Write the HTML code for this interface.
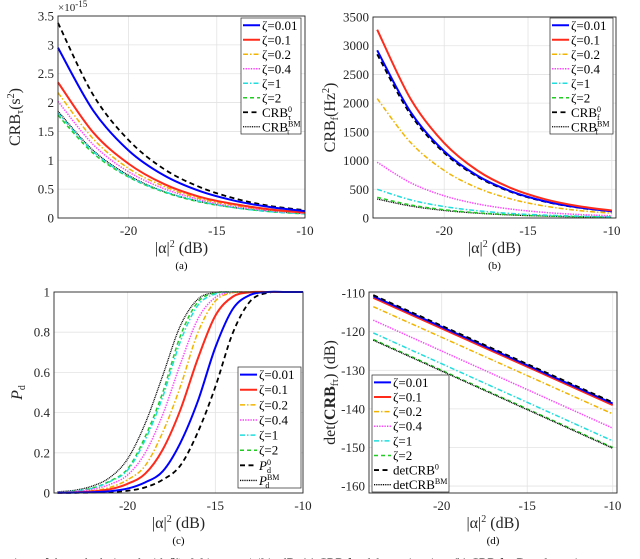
<!DOCTYPE html>
<html><head><meta charset="utf-8">
<style>
html,body{margin:0;padding:0;background:#fff;overflow:hidden;}
svg{display:block;font-family:"Liberation Serif",serif;}
</style></head>
<body>
<svg id="fig" width="640" height="559" viewBox="0 0 640 559" xmlns="http://www.w3.org/2000/svg">
<text x="-2" y="567" font-size="12.5" fill="#000">parison of the code designed with β̃ = 0.01 versus |α|² in dB: (a) CRB for delay estimation, (b) CRB for Doppler esti</text>
</svg>
<script>
// ---------- data ----------
const labels = ["ζ=0.01","ζ=0.1","ζ=0.2","ζ=0.4","ζ=1","ζ=2"];
// panel a (x in dB, values ×1e-15 s^2)
const xA = [-24,-22,-20,-18,-16,-14,-12,-10];
const aBlue   = [2.95,1.86,1.17,0.74,0.47,0.30,0.19,0.12];
const aRed    = [2.35,1.48,0.94,0.59,0.37,0.24,0.15,0.094];
const aYellow = [2.17,1.37,0.86,0.55,0.34,0.22,0.14,0.086];
const aMag    = [2.02,1.27,0.80,0.51,0.32,0.20,0.13,0.080];
const aCyan   = [1.82,1.15,0.72,0.46,0.29,0.18,0.11,0.072];
const aGreen  = [1.78,1.12,0.71,0.45,0.28,0.18,0.11,0.071];
const aCRB0   = [3.38,2.13,1.35,0.85,0.54,0.34,0.21,0.135];
const aBM     = [1.85,1.17,0.74,0.46,0.29,0.18,0.12,0.074];
const aTicksY = [0,0.5,1,1.5,2,2.5,3,3.5];
// panel b (Hz^2)
const xB = [-24,-22,-20,-18,-16,-14,-12,-10];
const bBlue   = [2920,1842,1162,733,463,292,184,116];
const bRed    = [3280,2070,1305,823,519,328,207,130];
const bYellow = [2080,1312,828,522,330,208,131,83];
const bMag    = [970,612,386,244,154,97,61,39];
const bCyan   = [500,315,199,126,79,50,32,20];
const bGreen  = [360,227,143,90,57,36,23,14];
const bCRB0   = [2850,1798,1134,716,452,285,180,113];
const bBM     = [330,208,131,83,52,33,21,13];
const bTicksY = [0,500,1000,1500,2000,2500,3000,3500];
// panel c (Pd)
const xC = [-24,-23,-22,-21,-20,-19,-18,-17,-16,-15,-14,-13,-12,-11,-10];
const cBlue   = [0.001,0.002,0.004,0.009,0.022,0.053,0.108,0.248,0.456,0.724,0.916,0.986,1,1,1];
const cRed    = [0.002,0.003,0.008,0.019,0.046,0.096,0.216,0.412,0.668,0.882,0.977,0.999,1,1,1];
const cYellow = [0.002,0.005,0.011,0.028,0.066,0.136,0.302,0.528,0.797,0.955,0.996,1,1,1,1];
const cMag    = [0.003,0.007,0.018,0.043,0.09,0.2,0.39,0.64,0.865,0.973,0.998,1,1,1,1];
const cCyan   = [0.004,0.01,0.024,0.057,0.114,0.264,0.478,0.752,0.933,0.99,1,1,1,1,1];
const cGreen  = [0.004,0.01,0.025,0.06,0.12,0.28,0.5,0.78,0.95,0.995,1,1,1,1,1];
const cP0     = [0.001,0.001,0.002,0.005,0.011,0.028,0.066,0.136,0.302,0.528,0.797,0.955,0.996,1,1];
const cBM     = [0.006,0.014,0.035,0.078,0.17,0.346,0.584,0.831,0.964,0.997,1,1,1,1,1];
const cTicksY = [0,0.2,0.4,0.6,0.8,1];
// panel d (dB)
const xD = [-24,-17,-10];
const dBlue   = [-110.8,-124.7,-138.6];
const dRed    = [-111.2,-125.1,-139.0];
const dYellow = [-113.5,-127.4,-141.3];
const dMag    = [-117.0,-131.0,-145.0];
const dCyan   = [-120.3,-134.3,-148.3];
const dGreen  = [-122.0,-136.0,-150.0];
const dCRB0   = [-110.5,-124.4,-138.3];
const dBM     = [-122.2,-136.2,-150.2];
const dTicksY = [-160,-150,-140,-130,-120,-110];
const xTicks = [-20,-15,-10];

// ---------- drawing ----------
const NS="http://www.w3.org/2000/svg";
const svg=document.getElementById('fig');
function mk(tag,attrs,parent){const e=document.createElementNS(NS,tag);for(const k in attrs)e.setAttribute(k,attrs[k]);(parent||svg).appendChild(e);return e;}
const styles=[
 {c:"#0000ff",w:2.0,d:""},
 {c:"#ff2a1a",w:2.0,d:""},
 {c:"#f2b400",w:1.5,d:"5,2,1.5,2"},
 {c:"#ff44ff",w:1.5,d:"1.4,1.2"},
 {c:"#22dddd",w:1.5,d:"5,2,1.5,2"},
 {c:"#22cc22",w:1.5,d:"4,3"},
 {c:"#000",w:1.8,d:"5,3.5"},
 {c:"#000",w:1.3,d:"1,0.8"}];
function smooth(pts){
  let d="M"+pts[0][0].toFixed(2)+","+pts[0][1].toFixed(2);
  for(let i=0;i<pts.length-1;i++){
    const p0=pts[Math.max(0,i-1)],p1=pts[i],p2=pts[i+1],p3=pts[Math.min(pts.length-1,i+2)];
    const c1=[p1[0]+(p2[0]-p0[0])/6,p1[1]+(p2[1]-p0[1])/6];
    const c2=[p2[0]-(p3[0]-p1[0])/6,p2[1]-(p3[1]-p1[1])/6];
    d+=" C"+c1.map(v=>v.toFixed(2))+" "+c2.map(v=>v.toFixed(2))+" "+p2[0].toFixed(2)+","+p2[1].toFixed(2);
  }
  return d;
}
function panel(o){
  const g=mk('g',{});
  
  
  const sx=v=>o.L+(v-o.x0)/(o.x1-o.x0)*(o.R-o.L);
  const sy=v=>o.B-(v-o.y0)/(o.y1-o.y0)*(o.B-o.T);
  mk('rect',{x:o.L,y:o.T,width:o.R-o.L,height:o.B-o.T,fill:"#fff"},g);
  xTicks.forEach(t=>{
    const l=mk('line',{x1:sx(t),x2:sx(t),y1:o.T,y2:o.B,stroke:"#e3e3e3","stroke-width":0.8},g);
    
    
    const tx=mk('text',{x:sx(t),y:o.B+17,"font-size":13,"text-anchor":"middle",fill:"#262626"},g);
    tx.textContent=t;
    
    
  });
  o.ticksY.forEach(t=>{
    const l=mk('line',{x1:o.L,x2:o.R,y1:sy(t),y2:sy(t),stroke:"#e3e3e3","stroke-width":0.8},g);
    
    
    const tx=mk('text',{x:o.L-4,y:sy(t)+4.5,"font-size":13,"text-anchor":"end",fill:"#262626"},g);
    tx.textContent=t;
    
    
  });
  const order=o.order||[6,7,5,4,3,2,1,0];
  order.forEach(i=>{
    const s=styles[i], ys=o.series[i];
    const pts=o.xs.map((x,k)=>[sx(x),sy(ys[k])]);
    const p=mk('path',{d:smooth(pts),fill:"none",stroke:s.c,"stroke-width":s.w,"stroke-dasharray":s.d},g);
    
    
  });
  mk('rect',{x:o.L,y:o.T,width:o.R-o.L,height:o.B-o.T,fill:"none",stroke:"#262626","stroke-width":0.9},g);
  const xl=mk('text',{x:(o.L+o.R)/2,y:o.B+35,"font-size":16,"text-anchor":"middle",fill:"#262626"},g);
  xl.innerHTML='|α|<tspan dy="-6" font-size="10">2</tspan><tspan dy="6"> (dB)</tspan>';
  
  
  const yl=mk('text',{x:0,y:0,"font-size":16,"text-anchor":"middle",fill:"#262626",transform:`translate(${o.yLabX},${(o.T+o.B)/2}) rotate(-90)`},g);
  yl.innerHTML=o.yLab;
  
  
  const cap=mk('text',{x:(o.L+o.R)/2,y:o.B+51,"font-size":11,"text-anchor":"middle",fill:"#000"},g);
  cap.textContent=o.cap;
  
  
  const lg=mk('g',{},g);
  
  
  mk('rect',{x:o.lg[0],y:o.lg[1],width:o.lg[2],height:o.lg[3],fill:"#fff",stroke:"#262626","stroke-width":0.7},lg);
  const rowH=o.lg[3]/8;
  for(let i=0;i<8;i++){
    const s=styles[i], y=o.lg[1]+rowH*(i+0.5);
    const ent=mk('g',{},lg);
    
    
    mk('line',{x1:o.lg[0]+2,x2:o.lg[0]+19,y1:y,y2:y,stroke:s.c,"stroke-width":s.w,"stroke-dasharray":s.d},ent);
    const t=mk('text',{x:o.lg[0]+21,y:y+4.5,"font-size":13,fill:"#000"},ent);
    t.innerHTML=i<6?labels[i]:o.refLab[i-6];
  }
}
panel({name:"panel-a-crb-delay",L:58,R:305,T:16,B:218,x0:-24,x1:-10,y0:0,y1:3.5,xs:xA,
  series:[aBlue,aRed,aYellow,aMag,aCyan,aGreen,aCRB0,aBM],ticksY:aTicksY,yLabX:20,cap:"(a)",
  yLab:'CRB<tspan dy="3" font-size="10">τ</tspan><tspan dy="-3">(s</tspan><tspan dy="-6" font-size="10">2</tspan><tspan dy="6">)</tspan>',
  lg:[241,18,60,116],refLab:['CRB<tspan dy="-5" font-size="8">0</tspan><tspan dx="-4" dy="8" font-size="8">τ</tspan>','CRB<tspan dy="-5" font-size="8">BM</tspan><tspan dx="-14" dy="8" font-size="8">τ</tspan>']});
panel({name:"panel-b-crb-doppler",L:373,R:616,T:17,B:218,x0:-24.25,x1:-9.75,y0:0,y1:3500,xs:xB,
  series:[bBlue,bRed,bYellow,bMag,bCyan,bGreen,bCRB0,bBM],ticksY:bTicksY,yLabX:335,cap:"(b)",
  yLab:'CRB<tspan dy="3" font-size="10">f</tspan><tspan dy="-3">(Hz</tspan><tspan dy="-6" font-size="10">2</tspan><tspan dy="6">)</tspan>',
  lg:[550,18,63,116],order:[7,5,4,3,2,6,0,1],refLab:['CRB<tspan dy="-5" font-size="8">0</tspan><tspan dx="-4" dy="8" font-size="8">f</tspan>','CRB<tspan dy="-5" font-size="8">BM</tspan><tspan dx="-14" dy="8" font-size="8">f</tspan>']});
const tex=mk('text',{x:58,y:11,"font-size":11,fill:"#262626"});
tex.innerHTML='×10<tspan dy="-4" font-size="9">-15</tspan>';


panel({name:"panel-c-detection-probability",L:54,R:303,T:292,B:493,x0:-24.2,x1:-10,y0:0,y1:1,xs:xC,
  series:[cBlue,cRed,cYellow,cMag,cCyan,cGreen,cP0,cBM],ticksY:cTicksY,yLabX:22,cap:"(c)",
  yLab:'<tspan font-style="italic">P</tspan><tspan dy="3" font-size="10">d</tspan>',
  lg:[238,367,63,121],refLab:['<tspan font-style="italic">P</tspan><tspan dy="-5" font-size="8">0</tspan><tspan dx="-4" dy="8" font-size="8">d</tspan>','<tspan font-style="italic">P</tspan><tspan dy="-5" font-size="8">BM</tspan><tspan dx="-14" dy="8" font-size="8">d</tspan>']});
panel({name:"panel-d-det-crb",L:369,R:617,T:292,B:493,x0:-24.25,x1:-9.75,y0:-161.8,y1:-109.7,xs:xD,
  series:[dBlue,dRed,dYellow,dMag,dCyan,dGreen,dCRB0,dBM],ticksY:dTicksY,yLabX:335,cap:"(d)",
  yLab:'det(<tspan font-weight="bold">CRB</tspan><tspan dy="3" font-size="10">fτ</tspan><tspan dy="-3">) (dB)</tspan>',
  lg:[372,375,77,117],order:[5,7,4,3,2,1,0,6],refLab:['detCRB<tspan dy="-5" font-size="8">0</tspan>','detCRB<tspan dy="-5" font-size="8">BM</tspan>']});
</script>
</body></html>
